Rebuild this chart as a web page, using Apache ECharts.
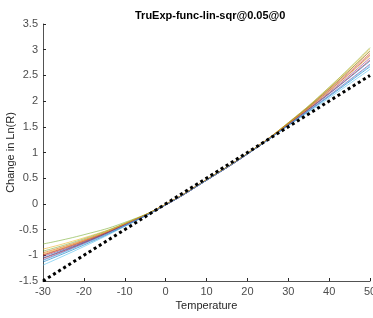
<!DOCTYPE html>
<html>
<head>
<meta charset="utf-8">
<script src="https://cdn.jsdelivr.net/npm/echarts@6/dist/echarts.min.js"></script>
<style>
  html, body { margin: 0; padding: 0; background: #fff; }
  #chart { width: 373px; height: 318px; }
</style>
</head>
<body>
<div id="chart"></div>
<script>
var temps = [-30, -20, -10, 0, 10, 20, 30, 40, 50];

// fitted curves (lin-sqr), one array per run
var curveA = [-0.78, -0.60, -0.36, -0.01, 0.47, 0.98, 1.58, 2.27, 3.04];
var curveB = [-0.88, -0.66, -0.38, -0.01, 0.47, 0.98, 1.58, 2.26, 3.02];
var curveC = [-0.95, -0.70, -0.39, -0.01, 0.47, 0.98, 1.57, 2.24, 2.97];
var curveD = [-0.99, -0.72, -0.40, -0.01, 0.47, 0.98, 1.56, 2.20, 2.90];
var curveE = [-1.02, -0.74, -0.40, -0.02, 0.46, 0.97, 1.55, 2.17, 2.84];
var curveF = [-1.05, -0.75, -0.41, -0.02, 0.46, 0.97, 1.54, 2.14, 2.78];
var curveG = [-1.19, -0.83, -0.44, -0.02, 0.46, 0.97, 1.52, 2.06, 2.62];
var curveH = [-1.13, -0.80, -0.43, -0.02, 0.46, 0.97, 1.53, 2.09, 2.67];
var curveI = [-1.00, -0.73, -0.40, -0.01, 0.47, 0.98, 1.56, 2.22, 2.93];
var curveJ = [-0.92, -0.68, -0.38, -0.01, 0.47, 0.98, 1.57, 2.24, 2.98];
var curveK = [-1.06, -0.76, -0.41, -0.02, 0.46, 0.97, 1.55, 2.15, 2.80];
var curveL = [-1.09, -0.77, -0.42, -0.02, 0.46, 0.97, 1.53, 2.11, 2.72];
var curveM = [-0.97, -0.71, -0.39, -0.01, 0.47, 0.98, 1.56, 2.19, 2.88];
var curveN = [-1.10, -0.78, -0.42, -0.02, 0.46, 0.97, 1.53, 2.10, 2.70];

// true exponent line
var trueTemps = [-30, 50];
var trueVals = [-1.5, 2.5];

var curves = [curveA, curveB, curveC, curveD, curveE, curveF, curveG,
              curveH, curveI, curveJ, curveK, curveL, curveM, curveN];
var curveColors = ['#77AC30', '#EDB120', '#D95319', '#A2142F', '#7E2F8E', '#0072BD', '#4DBEEE',
                   '#0072BD', '#D95319', '#77AC30', '#A2142F', '#7E2F8E', '#EDB120', '#4DBEEE'];

var yTicks = [-1.5, 3.5, 0.5]; // min, max, step
var xTicks = [-30, 50, 10];

var font = 'Liberation Sans, Arial, sans-serif';
var chart = echarts.init(document.getElementById('chart'));

var series = [];
for (var i = 0; i < curves.length; i++) {
    var pts = [];
    for (var j = 0; j < temps.length; j++) {
        pts.push([temps[j], curves[i][j]]);
    }
    series.push({
        type: 'line',
        data: pts,
        smooth: true,
        symbol: 'none',
        silent: true,
        lineStyle: { width: 0.8, color: curveColors[i], opacity: 0.75 }
    });
}
var truePts = [];
for (var k = 0; k < trueTemps.length; k++) {
    truePts.push([trueTemps[k], trueVals[k]]);
}
series.push({
    type: 'line',
    data: truePts,
    symbol: 'none',
    silent: true,
    z: 5,
    lineStyle: { width: 3, color: '#000', type: [3, 3] }
});

var axisCol = '#262626';
chart.setOption({
    animation: false,
    backgroundColor: '#fff',
    title: {
        text: 'TruExp-func-lin-sqr@0.05@0',
        left: 130,
        top: 5,
        textStyle: { fontFamily: font, fontSize: 11, fontWeight: 'bold', color: '#000' }
    },
    grid: { left: 43, right: 3, top: 24, bottom: 37, outerBoundsMode: 'none', containLabel: false },
    xAxis: {
        type: 'value',
        min: xTicks[0], max: xTicks[1], interval: xTicks[2],
        name: 'Temperature',
        nameLocation: 'middle',
        nameGap: 19,
        nameMoveOverlap: false,
        nameTextStyle: { fontFamily: font, fontSize: 11, color: '#262626' },
        axisLine: { onZero: false, lineStyle: { color: axisCol, width: 0.8 } },
        axisTick: { inside: true, length: 3, lineStyle: { color: axisCol } },
        axisLabel: { fontFamily: font, fontSize: 11, color: '#4d4d4d', margin: 5, hideOverlap: false },
        splitLine: { show: false }
    },
    yAxis: {
        type: 'value',
        min: yTicks[0], max: yTicks[1], interval: yTicks[2],
        name: 'Change in Ln(R)',
        nameLocation: 'middle',
        nameGap: 27,
        nameMoveOverlap: false,
        nameTextStyle: { fontFamily: font, fontSize: 11, color: '#262626' },
        axisLine: { show: true, onZero: false, lineStyle: { color: axisCol, width: 0.8 } },
        axisTick: { show: true, inside: true, length: 3, lineStyle: { color: axisCol } },
        axisLabel: { fontFamily: font, fontSize: 11, color: '#4d4d4d', margin: 5 },
        splitLine: { show: false }
    },
    series: series
});
</script>
</body>
</html>
